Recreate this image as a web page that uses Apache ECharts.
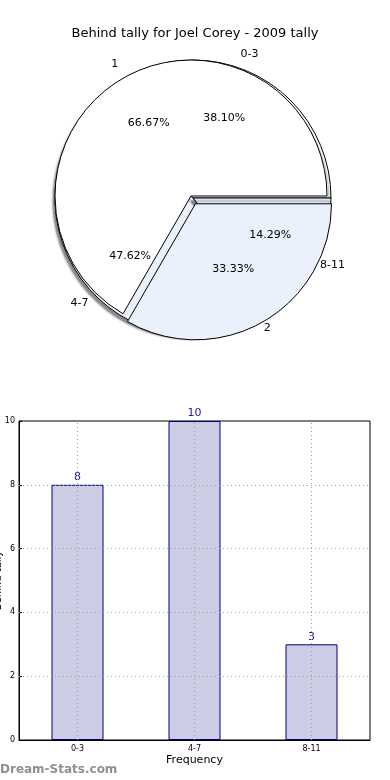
<!DOCTYPE html>
<html><head><meta charset="utf-8">
<script src="https://cdn.jsdelivr.net/npm/echarts@6/dist/echarts.min.js"></script>
<style>html,body{margin:0;padding:0;background:#fff}#c{width:390px;height:780px}</style>
</head><body><div id="c"></div>
<script>
const chartTitle = 'Behind tally for Joel Corey - 2009 tally';
const rangeCats = ['0-3', '4-7', '8-11'];
const rangeCounts = [8, 10, 3];
const groupCats = ['1', '2'];
const groupCounts = [2, 1];
const yTicks = [0, 2, 4, 6, 8, 10];
const xAxisName = 'Frequency';
const yAxisName = 'Behind tally';
const watermark = 'Dream-Stats.com';

const FONT = 'DejaVu Sans';
const WHITE = '#ffffff', LBLUE = '#eaf0fc';
const sum = a => a.reduce((s, v) => s + v, 0);
const pct = (arr) => (p) => (arr[p.dataIndex] / sum(arr) * 100).toFixed(2) + '%';

const cB = [191, 196], rB = 136;
const cA = [193, 198], rA = 138;
const T = 'rgba(0,0,0,0)';

function labelPie(center, r0, r1, cats, vals, fmt) {
  return {
    type: 'pie', center: center, radius: [r0, r1], startAngle: 0, clockwise: false,
    silent: true, z: 10, avoidLabelOverlap: false,
    itemStyle: { color: T, borderWidth: 0 },
    emphasis: { disabled: true },
    labelLine: { show: false },
    label: { show: true, position: 'inside', color: '#000', fontSize: 11, fontFamily: FONT, formatter: fmt },
    data: cats.map((c, i) => ({ name: c, value: vals[i] }))
  };
}

const option = {
  animation: false,
  backgroundColor: '#fff',
  title: { text: chartTitle, left: 'center', top: 22, textStyle: { fontSize: 13, fontWeight: 'normal', color: '#000', fontFamily: FONT } },
  graphic: [{ type: 'text', left: 0, top: 764, style: { text: watermark, fill: '#909090', font: 'bold 12px "DejaVu Sans"' } }],
  grid: { left: 19, right: 20, top: 421, bottom: 40, show: true, borderColor: '#000', borderWidth: 1, containLabel: false, outerBoundsMode: 'none' },
  xAxis: {
    type: 'category', data: rangeCats,
    name: xAxisName, nameLocation: 'middle', nameGap: 15,
    nameTextStyle: { fontSize: 11, color: '#000', fontFamily: FONT },
    axisLine: { lineStyle: { color: '#000' } },
    axisTick: { show: false },
    axisLabel: { fontSize: 8, color: '#000', margin: 5, fontFamily: FONT },
    splitLine: { show: false }
  },
  yAxis: {
    type: 'value', min: 0, max: 10, interval: 2,
    name: yAxisName, nameLocation: 'middle', nameGap: 16, nameRotate: 90, nameMoveOverlap: false,
    nameTextStyle: { fontSize: 10, color: '#000', fontFamily: FONT },
    axisLine: { show: true, lineStyle: { color: '#000' } },
    axisTick: { show: true, inside: true, length: 3, lineStyle: { color: '#000' } },
    axisLabel: { fontSize: 8, color: '#000', margin: 4, fontFamily: FONT, formatter: v => yTicks.includes(v) ? String(v) : '' },
    splitLine: { show: false }
  },
  series: [
    {
      type: 'pie', center: cA, radius: [0, rA], startAngle: 0, clockwise: false, silent: true, z: 1,
      label: { show: false }, labelLine: { show: false },
      itemStyle: { borderColor: '#000', borderWidth: 1, shadowColor: 'rgba(0,0,0,0.45)', shadowBlur: 2, shadowOffsetX: -2, shadowOffsetY: 3 },
      data: rangeCats.map((c, i) => ({ name: c, value: rangeCounts[i], itemStyle: { color: [WHITE, LBLUE, LBLUE][i] } }))
    },
    {
      type: 'pie', center: cB, radius: [0, rB], startAngle: 0, clockwise: false, silent: true, z: 2,
      selectedMode: 'multiple', selectedOffset: 9,
      label: { show: false }, labelLine: { show: false },
      itemStyle: { borderColor: '#000', borderWidth: 1 },
      select: { itemStyle: { color: LBLUE, borderColor: '#000', borderWidth: 1 } },
      data: groupCats.map((c, i) => ({ name: c, value: groupCounts[i], selected: i === 1, itemStyle: { color: [WHITE, LBLUE][i] } }))
    },
    labelPie(cB, 0, rB * 1.2, groupCats, groupCounts, pct(groupCounts)),
    labelPie(cA, 0, rA * 1.2, rangeCats, rangeCounts, pct(rangeCounts)),
    labelPie(cB, rB, rB * 1.2, groupCats, groupCounts, p => p.name),
    labelPie(cA, rA, rA * 1.2, rangeCats, rangeCounts, p => p.name),
    {
      type: 'bar', data: rangeCounts, barWidth: 52, z: 2,
      itemStyle: { color: '#ccccE5', borderColor: '#000080', borderWidth: 1 },
      label: { show: true, position: 'top', distance: 2, color: '#1a1a99', fontSize: 11, fontFamily: FONT },
      markLine: {
        silent: true, symbol: 'none', label: { show: false },
        lineStyle: { type: [1, 3], color: '#a0a0a0', width: 1 },
        data: rangeCats.map(c => ({ xAxis: c })).concat(yTicks.slice(1, -1).map(v => ({ yAxis: v })))
      }
    }
  ]
};
const chart = echarts.init(document.getElementById('c'), null, { renderer: 'canvas' });
chart.setOption(option);
</script></body></html>
